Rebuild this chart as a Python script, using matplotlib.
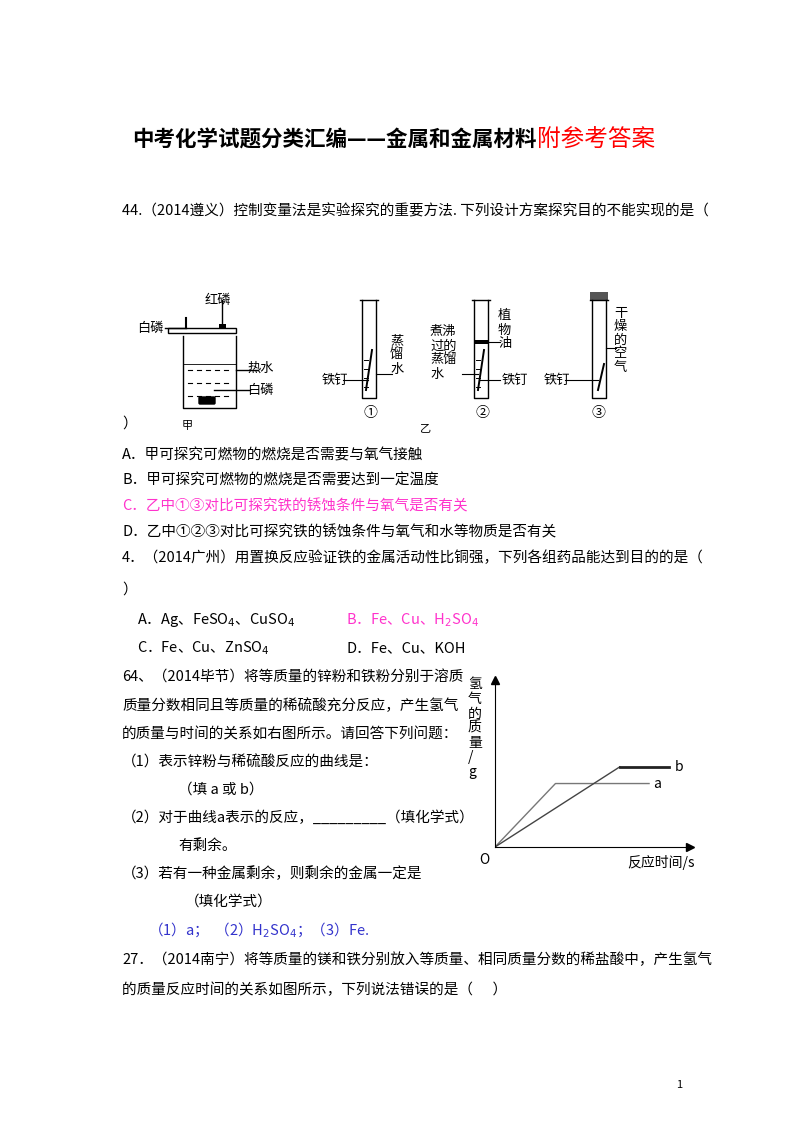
import matplotlib.pyplot as plt
from matplotlib.patches import Rectangle, FancyBboxPatch

plt.rcParams['font.family'] = ['Noto Sans CJK SC', 'DejaVu Sans']

# curve data (arbitrary units)
time_a = [0, 3.1, 7.9]
mass_a = [0, 3.8, 3.8]
time_b = [0, 6.4, 8.9]
mass_b = [0, 4.8, 4.8]

fig = plt.figure(figsize=(8, 11.32), dpi=100)
page = fig.add_axes([0, 0, 1, 1])
page.set_xlim(0, 800)
page.set_ylim(1132, 0)
page.axis('off')

FS = 10.5
PINK = '#ff33cc'


def t(x, y, s, size=FS, color='black', **kw):
    page.text(x, y, s, fontsize=size, color=color, va='center', ha='left', **kw)


# title
t(132, 140, '中考化学试题分类汇编——金属和金属材料', size=15.5, weight='bold')
t(537, 140, '附参考答案', size=17, color='red')

t(122, 211, '44.（2014遵义）控制变量法是实验探究的重要方法. 下列设计方案探究目的不能实现的是（')

# ---- apparatus sketches ----
lw = 1.0
# beaker 甲
page.plot([183, 183, 236, 236], [336, 408, 408, 336], color='k', lw=lw)
page.add_patch(Rectangle((168, 328), 68, 5, fill=False, lw=lw))
for yy in [370, 383, 396]:
    for xx in range(188, 232, 9):
        page.plot([xx, xx + 4], [yy, yy], color='k', lw=0.8)
page.plot([183, 236], [364, 364], color='k', lw=0.6)
page.add_patch(FancyBboxPatch((200, 398), 14, 5, boxstyle='round,pad=1', fc='k'))
page.plot([186, 186], [318, 328], color='k', lw=1.5)
page.plot([222, 222], [300, 326], color='k', lw=lw)
page.add_patch(Rectangle((219, 324), 7, 4, fc='k'))
t(205, 300, '红磷', size=9.5)
t(137, 328, '白磷', size=9.5)
page.plot([165, 186], [328, 328], color='k', lw=lw)
page.plot([236, 258], [370, 370], color='k', lw=lw)
t(247, 368, '热水', size=9.5)
page.plot([214, 250], [390, 390], color='k', lw=lw)
t(247, 390, '白磷', size=9.5)
t(182, 426, '甲', size=8)

# test tubes 乙
def tube(x, top, bot):
    page.plot([x, x, x + 14, x + 14], [top, bot, bot, top], color='k', lw=lw)
    page.plot([x - 2, x + 16], [top, top], color='k', lw=lw)


tube(362, 300, 398)
tube(474, 300, 398)
tube(592, 300, 398)
page.add_patch(Rectangle((590, 292), 18, 9, fc='#555555'))
page.add_patch(Rectangle((474, 340), 14, 4, fc='k'))
for xx, y0 in [(369, 350), (481, 350), (601, 364)]:
    page.plot([xx - 3, xx + 3], [390, y0], color='k', lw=1.4)
# water level dashes
for x0 in [362, 474]:
    for yy in range(360, 396, 9):
        page.plot([x0 + 2, x0 + 6], [yy, yy], color='k', lw=0.7)
# leader lines
for xa, xb, yy in [(343, 368, 380), (376, 392, 374), (462, 478, 374),
                   (480, 500, 380), (488, 500, 342), (565, 598, 380), (606, 616, 348)]:
    page.plot([xa, xb], [yy, yy], color='k', lw=0.8)
t(390, 355, '蒸\n馏\n水', size=9.5, linespacing=1.1)
t(322, 380, '铁钉', size=9.5)
t(430, 353, '煮沸\n过的\n蒸馏\n水', size=9.5, linespacing=1.1)
t(498, 330, '植\n物\n油', size=9.5, linespacing=1.1)
t(502, 380, '铁钉', size=9.5)
t(544, 380, '铁钉', size=9.5)
t(614, 340, '干\n燥\n的\n空\n气', size=9.5, linespacing=1.05)
for x0, lab in zip([371, 483, 599], ['①', '②', '③']):
    t(x0 - 8, 413, lab, size=10)
t(420, 428, '乙', size=8)
t(122, 424, '）', size=FS)

# options
t(122, 455, 'A．甲可探究可燃物的燃烧是否需要与氧气接触')
t(122, 480, 'B．甲可探究可燃物的燃烧是否需要达到一定温度')
t(122, 506, 'C．乙中①③对比可探究铁的锈蚀条件与氧气是否有关', color=PINK)
t(122, 532, 'D．乙中①②③对比可探究铁的锈蚀条件与氧气和水等物质是否有关')
t(122, 558, '4．（2014广州）用置换反应验证铁的金属活动性比铜强，下列各组药品能达到目的的是（')
t(122, 590, '）')
t(137, 620, 'A．Ag、FeSO$_4$、CuSO$_4$')
t(346, 620, 'B．Fe、Cu、H$_2$SO$_4$', color=PINK)
t(137, 648, 'C．Fe、Cu、ZnSO$_4$')
t(346, 648, 'D．Fe、Cu、KOH')
t(122, 678, '64、（2014毕节）将等质量的锌粉和铁粉分别于溶质')
t(122, 706, '质量分数相同且等质量的稀硫酸充分反应，产生氢气')
t(122, 734, '的质量与时间的关系如右图所示。请回答下列问题：')
t(122, 762, '（1）表示锌粉与稀硫酸反应的曲线是：')
t(178, 790, '（填 a 或 b）')
t(122, 818, '（2）对于曲线a表示的反应，_________（填化学式）')
t(178, 846, '有剩余。')
t(122, 874, '（3）若有一种金属剩余，则剩余的金属一定是')
t(185, 902, '（填化学式）')
t(148, 930, '（1）a；  （2）H$_2$SO$_4$；（3）Fe.', color='#3333cc')
t(122, 960, '27．（2014南宁）将等质量的镁和铁分别放入等质量、相同质量分数的稀盐酸中，产生氢气')
t(122, 990, '的质量反应时间的关系如图所示，下列说法错误的是（      ）')
t(676, 1085, '1', size=8)

# ---- small chart ----
ax = fig.add_axes([495 / 800, 1 - 847 / 1132, 195 / 800, 167 / 1132])
ax.set_xlim(0, 10)
ax.set_ylim(0, 10)
for s in ['top', 'right']:
    ax.spines[s].set_visible(False)
ax.set_xticks([])
ax.set_yticks([])
ax.patch.set_alpha(0)
ax.plot(1, 0, '>k', ms=6, transform=ax.transAxes, clip_on=False)
ax.plot(0, 1, '^k', ms=6, transform=ax.transAxes, clip_on=False)
ax.plot(time_a, mass_a, color='#777777', lw=1)
ax.plot(time_b[:2], mass_b[:2], color='#444444', lw=1)
ax.plot(time_b[1:], mass_b[1:], color='#222222', lw=2)
ax.text(time_a[-1] + 0.2, mass_a[-1], 'a', fontsize=10, va='center')
ax.text(time_b[-1] + 0.3, mass_b[-1], 'b', fontsize=10, va='center')
t(468, 728, '氢\n气\n的\n质\n量\n/\ng', size=10, linespacing=1.05)
t(479, 860, 'O', size=10)
t(627, 862, '反应时间/s', size=10)

fig.savefig('out.png', dpi=100)
